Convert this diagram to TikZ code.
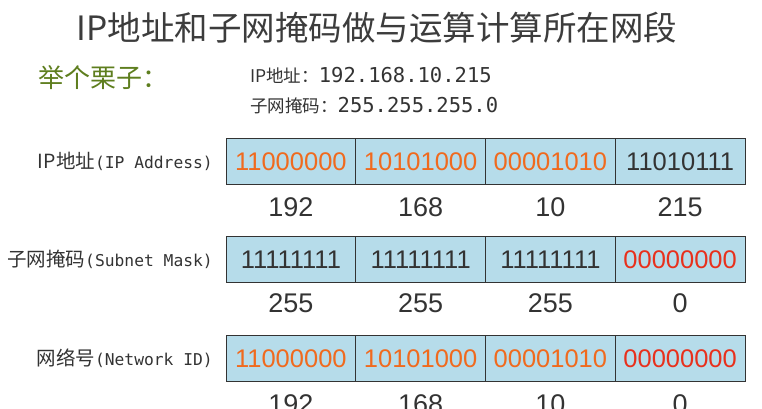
\documentclass[tikz,border=0pt]{standalone}
\usepackage{fontspec}
\setmainfont{Liberation Sans}
\newfontfamily\cjk{Noto Sans CJK SC}
\newfontfamily\monofont{DejaVu Sans Mono}
\usepackage{xcolor}
\definecolor{textgray}{HTML}{333333}
\definecolor{titlegray}{HTML}{3C3C3C}
\definecolor{examplegreen}{HTML}{5E7E1E}
\definecolor{cellfill}{HTML}{B6DCEA}
\definecolor{cellborder}{HTML}{333333}
\definecolor{netorange}{HTML}{F06A1E}
\definecolor{hostred}{HTML}{E8301C}
\usepackage{tikz}
\usetikzlibrary{positioning}
\tikzset{
    cell/.style={
        rectangle,
        draw=cellborder,
        fill=cellfill,
        text=textgray,
        minimum width=129.75pt,
        minimum height=46pt,
        inner sep=0pt,
        outer sep=0pt,
        line width=0.9pt,
        font=\fontsize{25.5}{25.5}\selectfont,
    },
    netbits/.style={
        cell,
        text=netorange,
    },
    hostbits/.style={
        cell,
        text=hostred,
    },
    num/.style={
        text=textgray,
        inner sep=0pt,
        font=\fontsize{27}{27}\selectfont,
    },
    rowlabel/.style={
        text=textgray,
        inner sep=0pt,
        anchor=east,
    },
    info/.style={
        text=textgray,
        inner sep=0pt,
        anchor=west,
    },
}
\newcommand{\cjklabel}[2]{{\cjk\fontsize{19.5}{19.5}\selectfont #1}{\monofont\fontsize{16.3}{16.3}\selectfont #2}}
\newcommand{\cjkinfo}[2]{{\cjk\fontsize{17.5}{17.5}\selectfont #1}{\monofont\fontsize{20.5}{20.5}\selectfont #2}}

\begin{document}
\begin{tikzpicture}[x=1pt,y=1pt,node distance=0pt]
    \clip (0,0) rectangle (762,409);

    % Title
    \node[text=titlegray, inner sep=0pt, font=\cjk\fontsize{33.5}{33.5}\selectfont] (title) at (377,381)
        {IP地址和子网掩码做与运算计算所在网段};

    % Example
    \node[text=examplegreen, inner sep=0pt, anchor=west, font=\cjk\fontsize{26}{26}\selectfont] (example) at (38,331)
        {举个栗子：};
    \node[info] (ipinfo) at (250,334) {\cjkinfo{IP地址：}{192.168.10.215}};
    \node[info] (maskinfo) at (250,303) {\cjkinfo{子网掩码：}{255.255.255.0}};

    % IP address
    \node[netbits] (ip1) at (290.875,247.5) {11000000};
    \node[netbits, right=of ip1] (ip2) {10101000};
    \node[netbits, right=of ip2] (ip3) {00001010};
    \node[cell, right=of ip3] (ip4) {11010111};
    \node[rowlabel, left=13pt of ip1] (iplabel) {\cjklabel{IP地址}{(IP Address)}};
    \node[num, yshift=-22.5pt] (ipn1) at (ip1.south) {192};
    \node[num, yshift=-22.5pt] (ipn2) at (ip2.south) {168};
    \node[num, yshift=-22.5pt] (ipn3) at (ip3.south) {10};
    \node[num, yshift=-22.5pt] (ipn4) at (ip4.south) {215};

    % Subnet mask
    \node[cell, below=52pt of ip1] (mask1) {11111111};
    \node[cell, right=of mask1] (mask2) {11111111};
    \node[cell, right=of mask2] (mask3) {11111111};
    \node[hostbits, right=of mask3] (mask4) {00000000};
    \node[rowlabel, left=13pt of mask1] (masklabel) {\cjklabel{子网掩码}{(Subnet Mask)}};
    \node[num, yshift=-21pt] (maskn1) at (mask1.south) {255};
    \node[num, yshift=-21pt] (maskn2) at (mask2.south) {255};
    \node[num, yshift=-21pt] (maskn3) at (mask3.south) {255};
    \node[num, yshift=-21pt] (maskn4) at (mask4.south) {0};

    % Network ID
    \node[netbits, below=53pt of mask1] (net1) {11000000};
    \node[netbits, right=of net1] (net2) {10101000};
    \node[netbits, right=of net2] (net3) {00001010};
    \node[hostbits, right=of net3] (net4) {00000000};
    \node[rowlabel, left=13pt of net1] (netlabel) {\cjklabel{网络号}{(Network ID)}};
    \node[num, yshift=-22.5pt] (netn1) at (net1.south) {192};
    \node[num, yshift=-22.5pt] (netn2) at (net2.south) {168};
    \node[num, yshift=-22.5pt] (netn3) at (net3.south) {10};
    \node[num, yshift=-22.5pt] (netn4) at (net4.south) {0};

\end{tikzpicture}
\end{document}
